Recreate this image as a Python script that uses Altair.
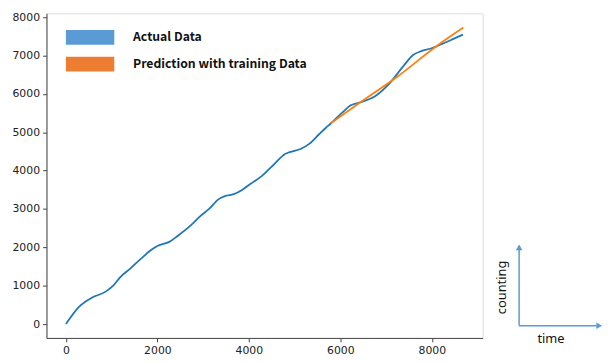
import altair as alt
import pandas as pd

# ---- data ----
actual_x = [0, 290, 575, 860, 1040, 1190, 1400, 1650, 1870, 2010, 2260, 2440, 2730, 2950,
            3130, 3340, 3490, 3670, 3850, 4030, 4280, 4530, 4800, 4890, 5140, 5320, 5540,
            5680, 5790, 6040, 6220, 6470, 6760, 7050, 7370, 7590, 7770, 7980, 8160, 8410, 8680]
actual_y = [0, 455, 694, 840, 1010, 1225, 1440, 1714, 1936, 2040, 2142, 2296, 2571, 2828,
            3000, 3257, 3342, 3385, 3496, 3650, 3856, 4139, 4439, 4481, 4568, 4696, 4953,
            5110, 5226, 5509, 5695, 5790, 5938, 6239, 6710, 7010, 7111, 7180, 7267, 7396, 7545]
pred_x = [5790, 6400, 7230, 8130, 8690]
pred_y = [5230, 5750, 6430, 7265, 7725]

series = ["Actual Data", "Prediction with training Data"]
line_colors = ["#1f77b4", "#ff7f0e"]
patch_colors = ["#5B9BD5", "#ED7D31"]

x_ticks = [0, 2000, 4000, 6000, 8000]
y_ticks = [0, 1000, 2000, 3000, 4000, 5000, 6000, 7000, 8000]

# small axis sketch on the right (time / counting)
sketch_label_v = "counting"
sketch_label_h = "time"

actual_df = pd.DataFrame({"t": actual_x, "v": actual_y, "o": range(len(actual_x))})
pred_df = pd.DataFrame({"t": pred_x, "v": pred_y, "o": range(len(pred_x))})
legend_df = pd.DataFrame({"t": [0, 0], "v": [0, 0], "series": series})

xs = alt.Scale(domain=[-425, 9111], nice=False, zero=False)
ys = alt.Scale(domain=[-360, 8098], nice=False, zero=False)

axis_common = dict(grid=False, domainColor="#444", domainWidth=1, tickColor="#444",
                   tickSize=4, tickWidth=1, labelFont="DejaVu Sans", labelFontSize=11,
                   labelColor="#222", labelPadding=3, format="d", title=None)

actual_line = alt.Chart(actual_df).mark_line(strokeWidth=1.8, color=line_colors[0],
                                             interpolate="monotone").encode(
    x=alt.X("t:Q", scale=xs, axis=alt.Axis(values=x_ticks, **axis_common)),
    y=alt.Y("v:Q", scale=ys, axis=alt.Axis(values=y_ticks, **axis_common)),
    order="o:Q",
)
pred_line = alt.Chart(pred_df).mark_line(strokeWidth=1.8, color=line_colors[1],
                                         interpolate="monotone").encode(
    x=alt.X("t:Q", scale=xs),
    y=alt.Y("v:Q", scale=ys),
    order="o:Q",
)

legend_layer = alt.Chart(legend_df).mark_point(filled=True, size=0, strokeWidth=0).encode(
    x=alt.X("t:Q", scale=xs),
    y=alt.Y("v:Q", scale=ys),
    fill=alt.Fill("series:N", scale=alt.Scale(domain=series, range=patch_colors),
                  legend=alt.Legend(
                      title=None, orient="none", legendX=36.7, legendY=17,
                      padding=0,
                      symbolType="M-3.27,-1L3.27,-1L3.27,1L-3.27,1Z",
                      symbolSize=225, symbolStrokeWidth=0, symbolOpacity=1,
                      labelOffset=36, rowPadding=12,
                      labelFont="Noto Sans CJK KR", labelFontWeight="bold",
                      labelFontSize=12.4, labelColor="#111", labelLimit=400,
                  )),
)

# sketch: vertical and horizontal arrows in data units beyond the plot
v_rule = pd.DataFrame({"x": [9909], "y": [-44], "y2": [2040]})
h_rule = pd.DataFrame({"x": [9909], "x2": [11600], "y": [-44]})
heads = pd.DataFrame({"x": [9909, 11660], "y": [2000, -44], "shape": ["triangle-up", "triangle-right"]})
texts = pd.DataFrame({"x": [9528], "y": [956], "txt": [sketch_label_v]})
texts2 = pd.DataFrame({"x": [10606], "y": [-386], "txt": [sketch_label_h]})

arrow_color = "#5B9BD5"
vr = alt.Chart(v_rule).mark_rule(color=arrow_color, strokeWidth=1.5, clip=False).encode(
    x=alt.X("x:Q", scale=xs), y=alt.Y("y:Q", scale=ys), y2="y2:Q")
hr = alt.Chart(h_rule).mark_rule(color=arrow_color, strokeWidth=1.5, clip=False).encode(
    x=alt.X("x:Q", scale=xs), x2="x2:Q", y=alt.Y("y:Q", scale=ys))
hd = alt.Chart(heads).mark_point(filled=True, color=arrow_color, opacity=1, size=45, clip=False).encode(
    x=alt.X("x:Q", scale=xs), y=alt.Y("y:Q", scale=ys),
    shape=alt.Shape("shape:N", scale=None, legend=None))
tv = alt.Chart(texts).mark_text(angle=270, font="Noto Sans", fontSize=13, color="#111",
                                align="center", baseline="middle", clip=False).encode(
    x=alt.X("x:Q", scale=xs), y=alt.Y("y:Q", scale=ys), text="txt:N")
th = alt.Chart(texts2).mark_text(font="Noto Sans", fontSize=13, color="#111",
                                 align="center", baseline="middle", clip=False).encode(
    x=alt.X("x:Q", scale=xs), y=alt.Y("y:Q", scale=ys), text="txt:N")

chart = alt.layer(actual_line, pred_line, legend_layer, vr, hr, hd, tv, th).properties(
    width=442, height=329,
    autosize=alt.AutoSizeParams(type="none"),
    padding={"left": 39, "top": 3, "right": 122, "bottom": 20},
).configure_view(stroke="#444", strokeWidth=1).configure(background="white")

chart.save("out.html", embed_options={"renderer": "svg", "actions": False})
